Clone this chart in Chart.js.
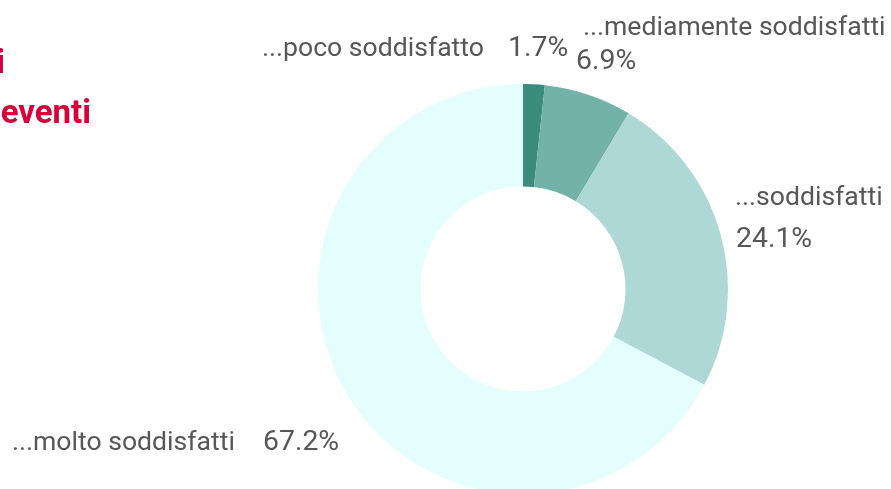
<!DOCTYPE html>
<html>
<head>
<meta charset="utf-8">
<script src="https://cdn.jsdelivr.net/npm/chart.js@4/dist/chart.umd.min.js"></script>
<style>
html,body{margin:0;padding:0;background:#fff;overflow:hidden;}
#wrap{width:891px;height:489px;position:relative;}
</style>
</head>
<body>
<div id="wrap"><canvas id="c" width="891" height="489"></canvas></div>
<script>
const categories = ['...poco soddisfatto', '...mediamente soddisfatti', '...soddisfatti', '...molto soddisfatti'];
const values = [1.7, 6.9, 24.1, 67.2];
const valueLabels = ['1.7%', '6.9%', '24.1%', '67.2%'];
const titleLines = ['Livello di soddisfazione dei', 'partecipanti agli eventi'];

const colors = ['#3a8c7c', '#72b2a8', '#aed8d6', '#e3fefd'];

// label layout: [nameX, nameY, valueX, valueY]
const labelPos = [
  [262, 56, 508, 56],
  [583, 35, 576, 69],
  [735, 205, 736, 247],
  [12, 450, 263, 450]
];

const textPlugin = {
  id: 'texts',
  afterDraw(chart) {
    const ctx = chart.ctx;
    ctx.save();
    ctx.fillStyle = '#d6003a';
    ctx.font = 'bold 33px Roboto';
    ctx.textAlign = 'right';
    ctx.textBaseline = 'alphabetic';
    ctx.fillText(titleLines[0], 5, 73);
    ctx.fillText(titleLines[1], 91, 123);
    ctx.fillStyle = '#575757';
    ctx.textAlign = 'left';
    categories.forEach((c, i) => {
      const p = labelPos[i];
      ctx.font = '26.6px Roboto';
      ctx.fillText(c, p[0], p[1]);
      ctx.font = '28.4px Roboto';
      ctx.fillText(valueLabels[i], p[2], p[3]);
    });
    ctx.restore();
  }
};

new Chart(document.getElementById('c'), {
  type: 'doughnut',
  data: {
    labels: categories,
    datasets: [{
      data: values,
      backgroundColor: colors,
      borderWidth: 0,
      radius: 205,
      cutout: '50%'
    }]
  },
  options: {
    responsive: false,
    animation: false,
    layout: { padding: { left: 155, right: 0, top: 89, bottom: 0 } },
    plugins: {
      legend: { display: false },
      tooltip: { enabled: false },
      title: { display: false }
    }
  },
  plugins: [textPlugin]
});
</script>
</body>
</html>
